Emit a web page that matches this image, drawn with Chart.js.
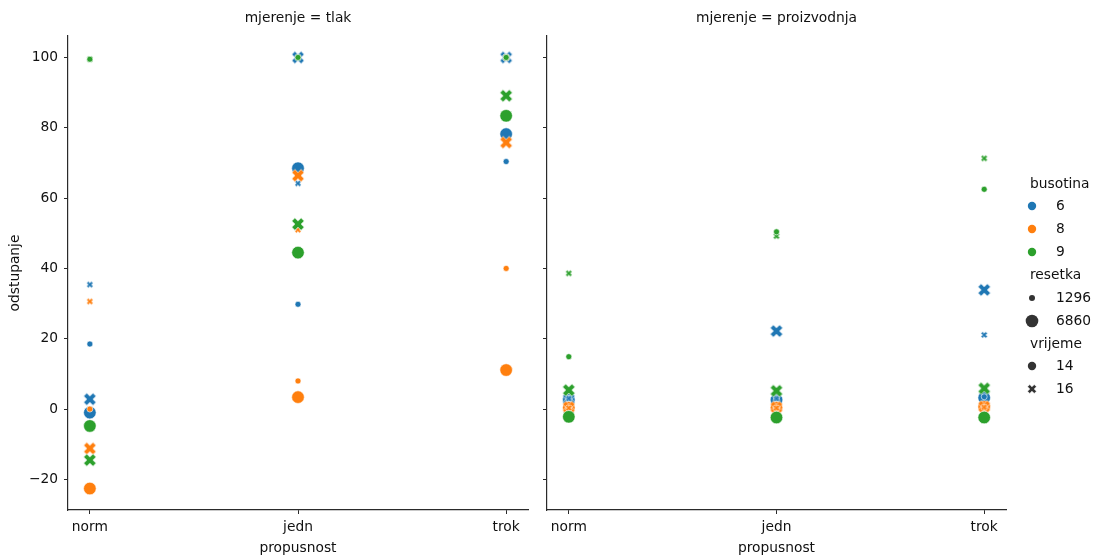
<!DOCTYPE html>
<html><head><meta charset="utf-8">
<script src="https://cdn.jsdelivr.net/npm/chart.js@4.4.0/dist/chart.umd.min.js"></script>
<style>
html,body{margin:0;padding:0;background:#fff;width:1094px;height:558px;overflow:hidden;}
canvas{position:absolute;top:0;}
#c1{left:0;} #c2{left:540px;}
</style></head><body>
<canvas id="c1" width="540" height="558"></canvas>
<canvas id="c2" width="554" height="558"></canvas>
<script>
// ---------- data ----------
const categories = ['norm', 'jedn', 'trok'];
const yTicks = [-20, 0, 20, 40, 60, 80, 100];
const busotinaLevels = ['6', '8', '9'];
const resetkaLevels = ['1296', '6860'];
const vrijemeLevels = ['14', '16'];
const panelTitles = ['mjerenje = tlak', 'mjerenje = proizvodnja'];

// tlak: busotina_resetka_vrijeme, values for norm, jedn, trok
const tlak_6_1296_14 = [18.5, 29.8, 70.4];
const tlak_6_1296_16 = [35.4, 64.2, 100.0];
const tlak_6_6860_14 = [-1.0, 68.5, 78.2];
const tlak_6_6860_16 = [2.8, 100.0, 100.0];
const tlak_8_1296_14 = [0.0, 8.0, 40.0];
const tlak_8_1296_16 = [30.6, 51.0, 100.0];
const tlak_8_6860_14 = [-22.6, 3.4, 11.1];
const tlak_8_6860_16 = [-11.2, 66.4, 75.8];
const tlak_9_1296_14 = [99.5, 100.0, 100.0];
const tlak_9_1296_16 = [99.5, 100.0, 100.0];
const tlak_9_6860_14 = [-4.8, 44.5, 83.4];
const tlak_9_6860_16 = [-14.5, 52.6, 89.1];

// proizvodnja
const proizvodnja_6_1296_14 = [3.0, 3.0, 3.5];
const proizvodnja_6_1296_16 = [3.0, 3.0, 21.1];
const proizvodnja_6_6860_14 = [2.6, 2.6, 3.2];
const proizvodnja_6_6860_16 = [2.8, 22.2, 33.9];
const proizvodnja_8_1296_14 = [0.3, 0.3, 0.5];
const proizvodnja_8_1296_16 = [0.3, 0.3, 0.5];
const proizvodnja_8_6860_14 = [0.4, 0.4, 0.6];
const proizvodnja_8_6860_16 = [0.5, 0.5, 0.7];
const proizvodnja_9_1296_14 = [14.9, 50.4, 62.5];
const proizvodnja_9_1296_16 = [38.6, 49.2, 71.3];
const proizvodnja_9_6860_14 = [-2.2, -2.4, -2.4];
const proizvodnja_9_6860_16 = [5.4, 5.2, 5.9];

// ---------- styling ----------
const hueColors = {'6': '#1f77b4', '8': '#ff7f0e', '9': '#2ca02c'};
const FONT = {family: '"DejaVu Sans", sans-serif', size: 13.8};
const TXT = '#111111';
const AX = '#2a2a2a';

const markerCache = {};
function xMarker(color, d) {
  const key = color + d;
  if (markerCache[key]) return markerCache[key];
  const size = Math.ceil(d + 3);
  const c = document.createElement('canvas');
  c.width = size; c.height = size;
  const ctx = c.getContext('2d');
  ctx.translate(size / 2, size / 2);
  ctx.rotate(Math.PI / 4);
  const h = 0.53 * d, w = 0.177 * d;
  ctx.beginPath();
  ctx.moveTo(-w, -h); ctx.lineTo(w, -h); ctx.lineTo(w, -w); ctx.lineTo(h, -w);
  ctx.lineTo(h, w); ctx.lineTo(w, w); ctx.lineTo(w, h); ctx.lineTo(-w, h);
  ctx.lineTo(-w, w); ctx.lineTo(-h, w); ctx.lineTo(-h, -w); ctx.lineTo(-w, -w);
  ctx.closePath();
  ctx.fillStyle = color; ctx.fill();
  ctx.strokeStyle = '#ffffff'; ctx.lineWidth = 0.6; ctx.stroke();
  markerCache[key] = c;
  return c;
}
const R_SMALL = 3.0, R_LARGE = 6.3, X_SMALL = 6.5, X_LARGE = 12.5;

function buildDatasets(table) {
  // table entries in paint order (first = bottom)
  const n = table.length;
  return table.map(([bus, res, vr, vals], i) => {
    const color = hueColors[bus];
    const small = res === resetkaLevels[0];
    const isX = vr === vrijemeLevels[1];
    return {
      label: bus + '/' + res + '/' + vr,
      data: vals.map((v, k) => ({x: k, y: v})),
      pointStyle: isX ? xMarker(color, small ? X_SMALL : X_LARGE) : 'circle',
      pointRadius: small ? R_SMALL : R_LARGE,
      pointHoverRadius: small ? R_SMALL : R_LARGE,
      backgroundColor: color,
      borderColor: '#ffffff',
      borderWidth: 0.6,
      showLine: false,
      order: n - i
    };
  });
}

const tlakTable = [
  ['6','6860','14', tlak_6_6860_14], ['6','6860','16', tlak_6_6860_16],
  ['6','1296','14', tlak_6_1296_14], ['6','1296','16', tlak_6_1296_16],
  ['8','6860','14', tlak_8_6860_14], ['8','6860','16', tlak_8_6860_16],
  ['8','1296','14', tlak_8_1296_14], ['8','1296','16', tlak_8_1296_16],
  ['9','6860','14', tlak_9_6860_14], ['9','6860','16', tlak_9_6860_16],
  ['9','1296','16', tlak_9_1296_16], ['9','1296','14', tlak_9_1296_14]
];
const proTable = [
  ['6','6860','14', proizvodnja_6_6860_14], ['6','6860','16', proizvodnja_6_6860_16],
  ['6','1296','14', proizvodnja_6_1296_14], ['6','1296','16', proizvodnja_6_1296_16],
  ['8','6860','14', proizvodnja_8_6860_14], ['8','6860','16', proizvodnja_8_6860_16],
  ['8','1296','14', proizvodnja_8_1296_14], ['8','1296','16', proizvodnja_8_1296_16],
  ['9','6860','14', proizvodnja_9_6860_14], ['9','6860','16', proizvodnja_9_6860_16],
  ['9','1296','16', proizvodnja_9_1296_16], ['9','1296','14', proizvodnja_9_1296_14]
];

function makeScales(first) {
  const gridCfg = {display: true, drawOnChartArea: false, drawTicks: true, tickLength: 4, tickColor: AX, tickWidth: 1};
  const borderCfg = {display: true, color: AX, width: 1.2};
  return {
    x: {
      type: 'linear', min: -0.105, max: 2.105,
      afterBuildTicks: s => { s.ticks = categories.map((c, i) => ({value: i})); },
      ticks: {callback: v => categories[v], font: FONT, color: TXT, padding: 5, autoSkip: false, maxRotation: 0},
      grid: gridCfg, border: borderCfg,
      title: {display: true, text: 'propusnost', font: FONT, color: TXT, padding: {top: 0, bottom: 1}},
      afterFit: s => { s.height = 48; }
    },
    y: {
      type: 'linear', min: -28.7, max: 106.1,
      afterBuildTicks: s => { s.ticks = yTicks.map(v => ({value: v})); },
      ticks: {display: first, callback: v => v < 0 ? '\u2212' + (-v) : '' + v, font: FONT, color: TXT, padding: 6},
      grid: gridCfg, border: borderCfg,
      title: {display: first, text: 'odstupanje', font: FONT, color: TXT, padding: {top: 7, bottom: 0}},
      afterFit: s => { s.width = first ? 68 : 7; }
    }
  };
}

function titlePlugin(text) {
  return {
    id: 'facetTitle',
    afterDraw(chart) {
      const ctx = chart.ctx, a = chart.chartArea;
      ctx.save();
      ctx.font = FONT.size + 'px ' + FONT.family;
      ctx.fillStyle = TXT; ctx.textAlign = 'center'; ctx.textBaseline = 'middle';
      ctx.fillText(text, (a.left + a.right) / 2, 18);
      ctx.restore();
    }
  };
}

const legendPlugin = {
  id: 'relLegend',
  afterDraw(chart) {
    const ctx = chart.ctx;
    const ox = 1030 - 540, mx = 1032 - 540, tx = 1056 - 540;
    const gray = '#333333';
    ctx.save();
    ctx.font = FONT.size + 'px ' + FONT.family;
    ctx.fillStyle = TXT; ctx.textBaseline = 'middle'; ctx.textAlign = 'left';
    const rows = [
      {title: 'busotina', y: 184},
      {label: busotinaLevels[0], y: 206, circle: hueColors['6'], r: 4.2},
      {label: busotinaLevels[1], y: 229, circle: hueColors['8'], r: 4.2},
      {label: busotinaLevels[2], y: 252, circle: hueColors['9'], r: 4.2},
      {title: 'resetka', y: 275},
      {label: resetkaLevels[0], y: 298, circle: gray, r: R_SMALL},
      {label: resetkaLevels[1], y: 321, circle: gray, r: R_LARGE},
      {title: 'vrijeme', y: 344},
      {label: vrijemeLevels[0], y: 366, circle: gray, r: 4.2},
      {label: vrijemeLevels[1], y: 389, xm: gray, d: 9}
    ];
    rows.forEach(r => {
      if (r.title) { ctx.fillStyle = TXT; ctx.fillText(r.title, ox, r.y); return; }
      if (r.circle) {
        ctx.beginPath(); ctx.arc(mx, r.y, r.r, 0, Math.PI * 2);
        ctx.fillStyle = r.circle; ctx.fill();
      } else {
        const img = xMarker(r.xm, r.d);
        ctx.drawImage(img, mx - img.width / 2, r.y - img.height / 2);
      }
      ctx.fillStyle = TXT; ctx.fillText(r.label, tx, r.y);
    });
    ctx.restore();
  }
};

function makeChart(id, table, first, title, extraPlugins, padRight) {
  return new Chart(document.getElementById(id), {
    type: 'scatter',
    data: {datasets: buildDatasets(table)},
    options: {
      responsive: false, animation: false,
      layout: {padding: {top: 36, right: padRight, left: 0, bottom: 0}},
      plugins: {legend: {display: false}, tooltip: {enabled: false}, title: {display: false}},
      scales: makeScales(first)
    },
    plugins: [titlePlugin(title)].concat(extraPlugins)
  });
}

makeChart('c1', tlakTable, true, panelTitles[0], [], 12);
makeChart('c2', proTable, false, panelTitles[1], [legendPlugin], 88);
</script>
</body></html>
